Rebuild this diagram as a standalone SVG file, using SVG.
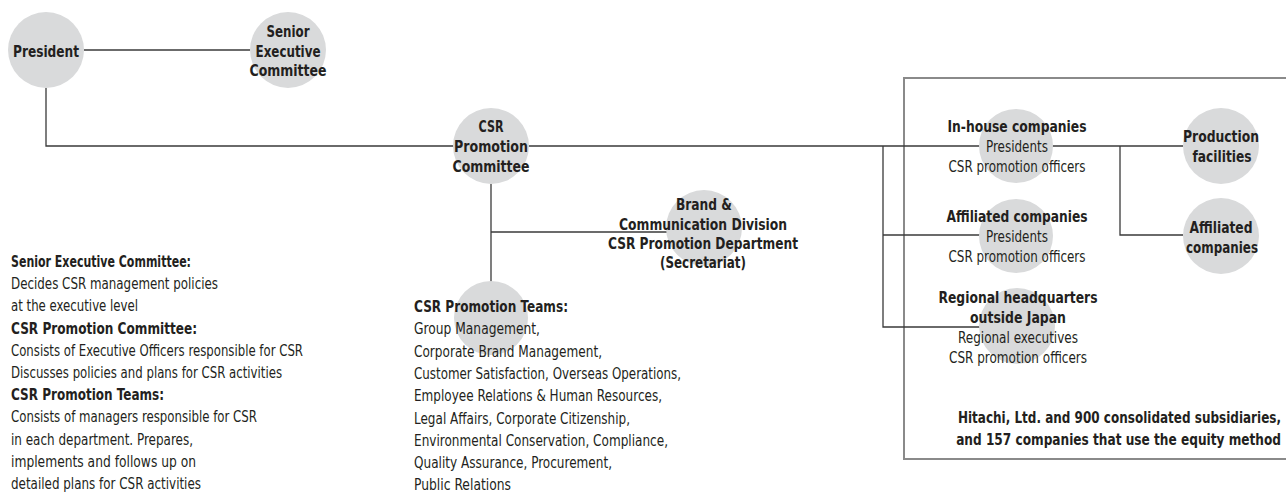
<svg xmlns="http://www.w3.org/2000/svg" width="1286" height="496" viewBox="0 0 1286 496">
<style>
.c{fill:#d9dadb;stroke:none}
.ln{stroke:#3a3a3a;stroke-width:1.3;fill:none}
.box{stroke:#8a8a8a;stroke-width:2;fill:none}
text{font-family:"DejaVu Sans Condensed","Liberation Sans",sans-serif;fill:#231f20}
.b{font-weight:bold;font-size:16px}
.r{font-size:16px}
.lb{font-weight:bold;font-size:15px}
.lr{font-size:15px}
.m{text-anchor:middle}
.e{text-anchor:end}
</style>
<rect width="1286" height="496" fill="#ffffff"/>
<rect class="box" x="904" y="78" width="400" height="381"/>
<g id="connectors">
<path class="ln" d="M84 50H250"/>
<path class="ln" d="M46 88V146H980"/>
<path class="ln" d="M491 184V282"/>
<path class="ln" d="M491 232H667"/>
<path class="ln" d="M883 146V327H980"/>
<path class="ln" d="M883 235H980"/>
<path class="ln" d="M1052 146H1183"/>
<path class="ln" d="M1120 146V235H1183"/>
</g>
<g id="president"><circle class="c" cx="46" cy="50" r="38"/><text class="b m" x="46" y="57" textLength="66" lengthAdjust="spacingAndGlyphs">President</text></g>
<g id="senior-exec"><circle class="c" cx="288" cy="50" r="38"/><text class="b m" x="288" y="37" textLength="43" lengthAdjust="spacingAndGlyphs">Senior</text><text class="b m" x="288" y="57" textLength="65" lengthAdjust="spacingAndGlyphs">Executive</text><text class="b m" x="288" y="76" textLength="77" lengthAdjust="spacingAndGlyphs">Committee</text></g>
<g id="csr-committee"><circle class="c" cx="491" cy="146" r="38"/><text class="b m" x="491" y="132" textLength="25" lengthAdjust="spacingAndGlyphs">CSR</text><text class="b m" x="491" y="152" textLength="74" lengthAdjust="spacingAndGlyphs">Promotion</text><text class="b m" x="491" y="172" textLength="77" lengthAdjust="spacingAndGlyphs">Committee</text></g>
<g id="brand"><circle class="c" cx="704" cy="228" r="38"/><text class="b m" x="704" y="210" textLength="56" lengthAdjust="spacingAndGlyphs">Brand &amp;</text><text class="b m" x="703" y="229.5" textLength="168" lengthAdjust="spacingAndGlyphs">Communication Division</text><text class="b m" x="703" y="249" textLength="190" lengthAdjust="spacingAndGlyphs">CSR Promotion Department</text><text class="b m" x="703" y="268" textLength="86" lengthAdjust="spacingAndGlyphs">(Secretariat)</text></g>
<g id="csr-teams"><circle class="c" cx="491" cy="318" r="37"/>
<text class="lb" x="414" y="312" textLength="154" lengthAdjust="spacingAndGlyphs">CSR Promotion Teams:</text>
<text class="lr" x="414" y="334.3" textLength="126" lengthAdjust="spacingAndGlyphs">Group Management,</text>
<text class="lr" x="414" y="356.6" textLength="188" lengthAdjust="spacingAndGlyphs">Corporate Brand Management,</text>
<text class="lr" x="414" y="378.9" textLength="267" lengthAdjust="spacingAndGlyphs">Customer Satisfaction, Overseas Operations,</text>
<text class="lr" x="414" y="401.2" textLength="248" lengthAdjust="spacingAndGlyphs">Employee Relations &amp; Human Resources,</text>
<text class="lr" x="414" y="423.5" textLength="216" lengthAdjust="spacingAndGlyphs">Legal Affairs, Corporate Citizenship,</text>
<text class="lr" x="414" y="445.8" textLength="254" lengthAdjust="spacingAndGlyphs">Environmental Conservation, Compliance,</text>
<text class="lr" x="414" y="468.1" textLength="198" lengthAdjust="spacingAndGlyphs">Quality Assurance, Procurement,</text>
<text class="lr" x="414" y="490.4" textLength="97" lengthAdjust="spacingAndGlyphs">Public Relations</text>
</g>
<g id="inhouse"><circle class="c" cx="1016" cy="146" r="37"/><text class="b m" x="1017" y="132" textLength="139" lengthAdjust="spacingAndGlyphs">In-house companies</text><text class="r m" x="1017" y="152" textLength="62" lengthAdjust="spacingAndGlyphs">Presidents</text><text class="r m" x="1017" y="172" textLength="137" lengthAdjust="spacingAndGlyphs">CSR promotion officers</text></g>
<g id="affiliated-mid"><circle class="c" cx="1016" cy="236" r="37"/><text class="b m" x="1017" y="222" textLength="141" lengthAdjust="spacingAndGlyphs">Affiliated companies</text><text class="r m" x="1017" y="242" textLength="62" lengthAdjust="spacingAndGlyphs">Presidents</text><text class="r m" x="1017" y="262" textLength="137" lengthAdjust="spacingAndGlyphs">CSR promotion officers</text></g>
<g id="regional"><circle class="c" cx="1017" cy="326" r="38"/><text class="b m" x="1018" y="303" textLength="159" lengthAdjust="spacingAndGlyphs">Regional headquarters</text><text class="b m" x="1018" y="323" textLength="96" lengthAdjust="spacingAndGlyphs">outside Japan</text><text class="r m" x="1018" y="343" textLength="120" lengthAdjust="spacingAndGlyphs">Regional executives</text><text class="r m" x="1018" y="363" textLength="138" lengthAdjust="spacingAndGlyphs">CSR promotion officers</text></g>
<g id="production"><circle class="c" cx="1221" cy="146" r="38"/><text class="b m" x="1221" y="142" textLength="76" lengthAdjust="spacingAndGlyphs">Production</text><text class="b m" x="1222" y="161.5" textLength="59" lengthAdjust="spacingAndGlyphs">facilities</text></g>
<g id="affiliated-right"><circle class="c" cx="1221" cy="236" r="38"/><text class="b m" x="1221" y="233" textLength="63" lengthAdjust="spacingAndGlyphs">Affiliated</text><text class="b m" x="1222" y="252.5" textLength="72" lengthAdjust="spacingAndGlyphs">companies</text></g>
<g id="hitachi"><text class="lb e" transform="translate(1281 422.5) scale(0.89 1)" x="0" y="0" textLength="363" lengthAdjust="spacingAndGlyphs">Hitachi, Ltd. and 900 consolidated subsidiaries,</text><text class="lb e" transform="translate(1281 445) scale(0.89 1)" x="0" y="0" textLength="365" lengthAdjust="spacingAndGlyphs">and 157 companies that use the equity method</text></g>
<g id="legend">
<text class="lb" x="11" y="267" textLength="180" lengthAdjust="spacingAndGlyphs">Senior Executive Committee:</text>
<text class="lr" x="11" y="289.2" textLength="207" lengthAdjust="spacingAndGlyphs">Decides CSR management policies</text>
<text class="lr" x="11" y="311.4" textLength="127" lengthAdjust="spacingAndGlyphs">at the executive level</text>
<text class="lb" x="11" y="333.6" textLength="186" lengthAdjust="spacingAndGlyphs">CSR Promotion Committee:</text>
<text class="lr" x="11" y="355.8" textLength="292" lengthAdjust="spacingAndGlyphs">Consists of Executive Officers responsible for CSR</text>
<text class="lr" x="11" y="378" textLength="271" lengthAdjust="spacingAndGlyphs">Discusses policies and plans for CSR activities</text>
<text class="lb" x="11" y="400.2" textLength="153" lengthAdjust="spacingAndGlyphs">CSR Promotion Teams:</text>
<text class="lr" x="11" y="422.4" textLength="246" lengthAdjust="spacingAndGlyphs">Consists of managers responsible for CSR</text>
<text class="lr" x="11" y="444.6" textLength="182" lengthAdjust="spacingAndGlyphs">in each department. Prepares,</text>
<text class="lr" x="11" y="466.8" textLength="185" lengthAdjust="spacingAndGlyphs">implements and follows up on</text>
<text class="lr" x="11" y="489" textLength="190" lengthAdjust="spacingAndGlyphs">detailed plans for CSR activities</text>
</g>
</svg>
